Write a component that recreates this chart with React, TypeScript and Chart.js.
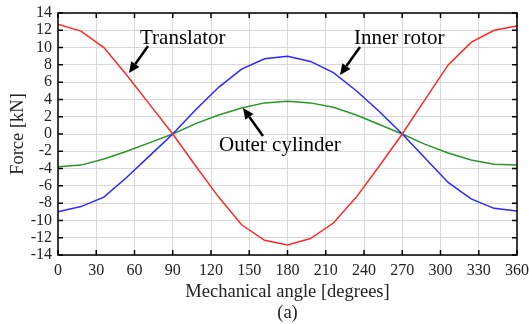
import React, { useEffect, useRef } from "react";
import { Chart, registerables } from "chart.js";

Chart.register(...registerables);

const angles = [0, 18, 36, 54, 72, 90, 108, 126, 144, 162, 180, 198, 216, 234, 252, 270, 288, 306, 324, 342, 360];
const translator = [12.7, 11.9, 10.0, 6.8, 3.4, 0, -3.7, -7.3, -10.5, -12.3, -12.85, -12.1, -10.3, -7.3, -3.7, 0, 4.0, 8.0, 10.6, 12.0, 12.5];
const innerRotor = [-9.0, -8.4, -7.3, -5.0, -2.5, 0, 2.8, 5.4, 7.5, 8.7, 9.0, 8.4, 7.1, 5.0, 2.6, 0, -2.8, -5.6, -7.5, -8.6, -8.9];
const outerCylinder = [-3.8, -3.6, -2.9, -2.0, -1.0, 0, 1.2, 2.2, 3.0, 3.6, 3.8, 3.6, 3.1, 2.2, 1.1, 0, -1.2, -2.2, -3.0, -3.5, -3.6];
const xTicks = [0, 30, 60, 90, 120, 150, 180, 210, 240, 270, 300, 330, 360];

const FONT = "'Liberation Serif', 'Times New Roman', serif";

function arrow(ctx: CanvasRenderingContext2D, x1: number, y1: number, x2: number, y2: number) {
  const ang = Math.atan2(y2 - y1, x2 - x1);
  const hl = 11, hw = 5;
  const bx = x2 - hl * Math.cos(ang), by = y2 - hl * Math.sin(ang);
  ctx.save();
  ctx.strokeStyle = "#000";
  ctx.fillStyle = "#000";
  ctx.lineWidth = 2.5;
  ctx.beginPath();
  ctx.moveTo(x1, y1);
  ctx.lineTo(bx, by);
  ctx.stroke();
  ctx.beginPath();
  ctx.moveTo(x2, y2);
  ctx.lineTo(bx + hw * Math.sin(ang), by - hw * Math.cos(ang));
  ctx.lineTo(bx - hw * Math.sin(ang), by + hw * Math.cos(ang));
  ctx.closePath();
  ctx.fill();
  ctx.restore();
}

const decor = {
  id: "decor",
  afterDraw(chart: any) {
    const ctx: CanvasRenderingContext2D = chart.ctx;
    const { left, right, top, bottom } = chart.chartArea;
    const xs = chart.scales.x, ys = chart.scales.y;
    ctx.save();
    ctx.strokeStyle = "#000";
    ctx.lineWidth = 1.5;
    ctx.strokeRect(left, top, right - left, bottom - top);
    const tl = 5;
    ctx.beginPath();
    for (const v of xTicks) {
      const px = xs.getPixelForValue(v);
      ctx.moveTo(px, bottom); ctx.lineTo(px, bottom - tl);
      ctx.moveTo(px, top); ctx.lineTo(px, top + tl);
    }
    for (let v = -14; v <= 14; v += 2) {
      const py = ys.getPixelForValue(v);
      ctx.moveTo(left, py); ctx.lineTo(left + tl, py);
      ctx.moveTo(right, py); ctx.lineTo(right - tl, py);
    }
    ctx.stroke();

    ctx.fillStyle = "#222";
    ctx.font = `18.5px ${FONT}`;
    ctx.textAlign = "center";
    ctx.textBaseline = "middle";
    ctx.fillText("Mechanical angle [degrees]", (left + right) / 2, 292);
    ctx.fillText("(a)", (left + right) / 2, 313);
    ctx.save();
    ctx.translate(18, (top + bottom) / 2);
    ctx.rotate(-Math.PI / 2);
    ctx.fillText("Force [kN]", 0, 0);
    ctx.restore();

    ctx.fillStyle = "#000";
    ctx.font = `21px ${FONT}`;
    ctx.textAlign = "left";
    ctx.fillText("Translator", 140, 38);
    ctx.fillText("Inner rotor", 354, 38);
    ctx.fillText("Outer cylinder", 219, 145);
    arrow(ctx, 148, 46, 129, 73);
    arrow(ctx, 360, 47, 340, 75);
    arrow(ctx, 263, 136, 243, 108);
    ctx.restore();
  },
};

export default function App() {
  const ref = useRef<HTMLCanvasElement>(null);
  useEffect(() => {
    const mk = (arr: number[]) => angles.map((a, i) => ({ x: a, y: arr[i] }));
    const chart = new Chart(ref.current!, {
      type: "line",
      data: {
        datasets: [
          { label: "Translator", data: mk(translator), borderColor: "rgb(255,40,40)", borderWidth: 1.5, pointRadius: 0, tension: 0 },
          { label: "Inner rotor", data: mk(innerRotor), borderColor: "rgb(40,40,255)", borderWidth: 1.5, pointRadius: 0, tension: 0 },
          { label: "Outer cylinder", data: mk(outerCylinder), borderColor: "rgb(40,150,40)", borderWidth: 1.5, pointRadius: 0, tension: 0 },
        ],
      },
      options: {
        animation: false,
        responsive: false,
        maintainAspectRatio: false,
        layout: { padding: { top: 13, right: 12, left: 0, bottom: 0 } },
        plugins: { legend: { display: false }, tooltip: { enabled: false } },
        scales: {
          x: {
            type: "linear",
            min: 0,
            max: 360,
            afterFit: (s: any) => { s.height = 69; s.paddingLeft = 0; s.paddingRight = 0; },
            afterBuildTicks: (s: any) => { s.ticks = xTicks.map((v) => ({ value: v })); },
            grid: { color: "#d8d8d8", drawTicks: false, lineWidth: 1 },
            border: { display: false },
            ticks: { color: "#222", font: { family: FONT, size: 16 }, padding: 6, maxRotation: 0, autoSkip: false },
          },
          y: {
            min: -14,
            max: 14,
            afterFit: (s: any) => { s.width = 58; s.paddingTop = 0; s.paddingBottom = 0; },
            grid: { color: "#d8d8d8", drawTicks: false, lineWidth: 1 },
            border: { display: false },
            ticks: { stepSize: 2, color: "#222", font: { family: FONT, size: 16 }, padding: 6, autoSkip: false },
          },
        },
      },
      plugins: [decor],
    } as any);
    return () => chart.destroy();
  }, []);
  return (
    <div style={{ position: "fixed", left: 0, top: 0, width: 529, height: 324, background: "#fff" }}>
      <canvas ref={ref} width={529} height={324} style={{ width: 529, height: 324 }} />
    </div>
  );
}
